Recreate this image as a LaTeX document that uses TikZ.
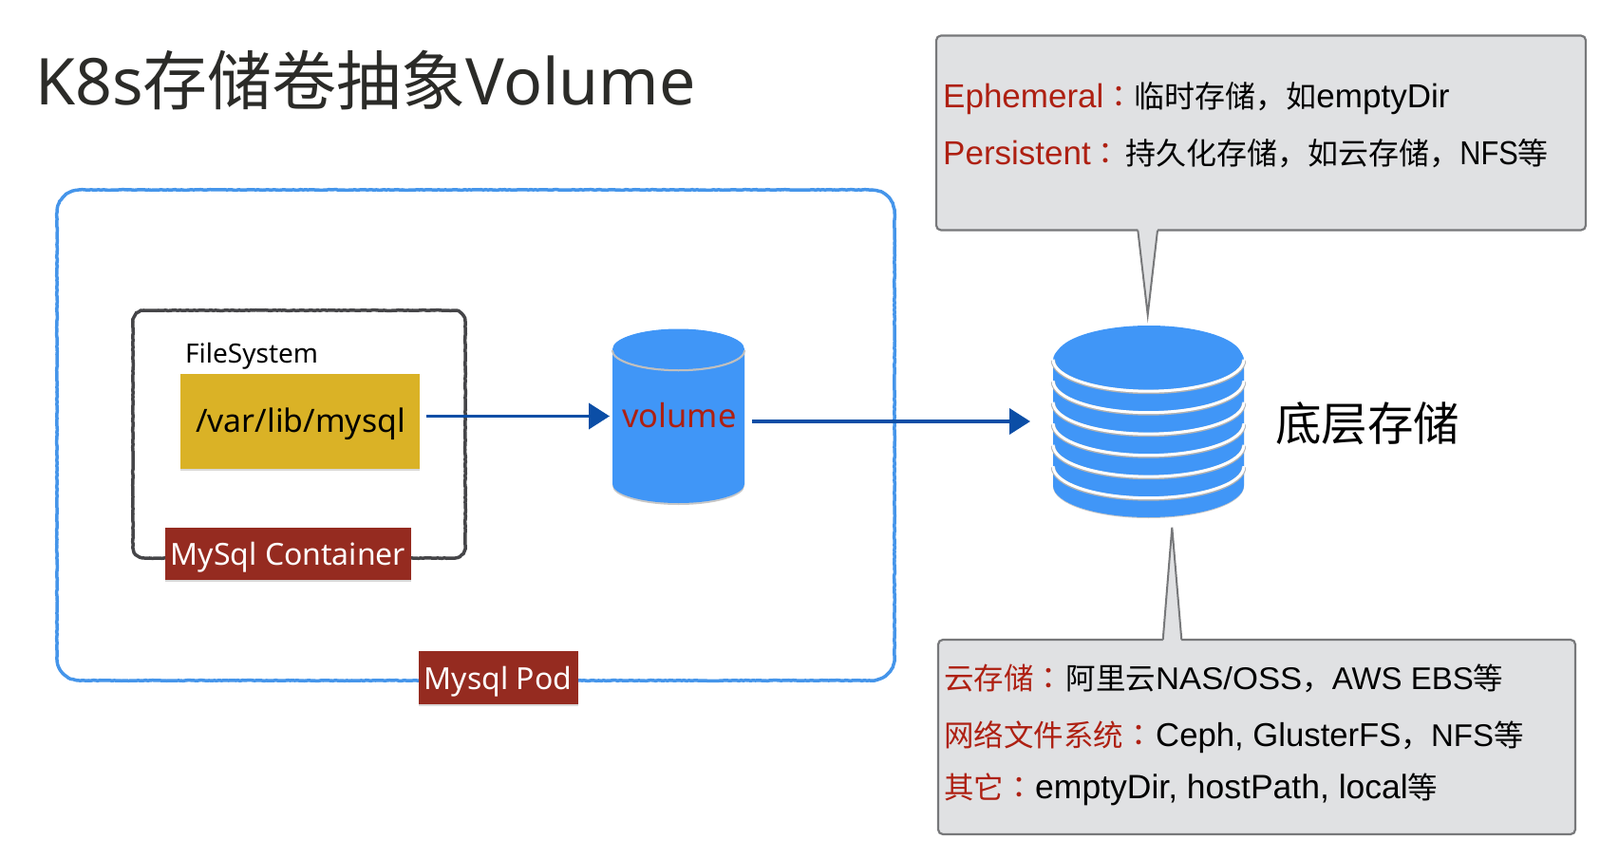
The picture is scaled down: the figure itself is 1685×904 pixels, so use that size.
\documentclass[tikz,border=0pt]{standalone}
\usepackage{fontspec}
\setmainfont{Liberation Sans}
\newfontfamily\cjk{Noto Sans CJK SC}
\newfontfamily\cjktc{Noto Sans CJK TC}
\newfontfamily\uilatin{Noto Sans}
\newfontfamily\latinnarrow[FakeStretch=.88]{Liberation Sans}
\newfontfamily\latinwide[FakeStretch=1.05]{Liberation Sans}
\usetikzlibrary{calc,shapes.geometric,arrows.meta,decorations.pathmorphing,shadows}

\definecolor{podblue}{HTML}{4595EA}
\definecolor{diskblue}{HTML}{4096F7}
\definecolor{framegray}{HTML}{454548}
\definecolor{flowblue}{HTML}{0B4EA6}
\definecolor{mustard}{HTML}{DAB226}
\definecolor{tagred}{HTML}{952B20}
\definecolor{notefill}{HTML}{E0E1E3}
\definecolor{noteline}{HTML}{77787A}
\definecolor{notered}{HTML}{AE2012}
\definecolor{titleink}{HTML}{2B2B28}

\newcommand{\zh}[2][32]{{\cjk\fontsize{#1}{#1}\selectfont #2}}
\newcommand{\mh}[1][32]{{\cjktc\fontsize{#1}{#1}\selectfont ：}}
\newcommand{\hl}[1]{\textcolor{notered}{#1}}
\newcommand{\roughframe}[3]{
  \draw[sketchy,draw=#3,line width=3.5pt] ($(#1.north west)+(#2,0pt)$) -- ($(#1.north east)+(-#2,0pt)$)
    arc[start angle=90,end angle=0,radius=#2] -- ($(#1.south east)+(0pt,#2)$)
    arc[start angle=0,end angle=-90,radius=#2] -- ($(#1.south west)+(#2,0pt)$)
    arc[start angle=270,end angle=180,radius=#2] -- ($(#1.north west)+(0pt,-#2)$)
    arc[start angle=180,end angle=90,radius=#2] -- cycle;
}

\tikzset{
  sketchy/.style={decorate,decoration={random steps,segment length=2.5pt,amplitude=.35pt}},
  frameslot/.style={rectangle,inner sep=0pt,outer sep=0pt},
  tagbox/.style={rectangle,fill=tagred,text=white,inner sep=0pt,text height=24pt,text depth=0pt,
    font=\uilatin\fontsize{32}{32}\selectfont,
    drop shadow={shadow xshift=0pt,shadow yshift=-1.5pt,opacity=.3}},
  flowarrow/.style={draw=flowblue,line width=3.8pt,-{Triangle[length=22pt,width=27pt]}},
  notebox/.style={rectangle,draw=noteline,fill=notefill,line width=2.2pt,rounded corners=5pt},
  notetip/.style={draw=noteline,line width=2pt,line join=miter},
  noteline1/.style={anchor=base west,inner sep=0pt,font=\fontsize{#1}{#1}\selectfont},
  plainlabel/.style={anchor=base west,inner sep=0pt,font=\uilatin\fontsize{#1}{#1}\selectfont},
  rimline/.style={line width=#1,line cap=butt}
}

\begin{document}
\begin{tikzpicture}[x=1pt,y=-1pt]
  \useasboundingbox (0,0) rectangle (1685,904);

  \node[plainlabel=68,text=titleink] (title) at (37,111) {K8s\zh[68]{存储卷抽象}Volume};

  % pod and container frames
  \node[frameslot,minimum width=882pt,minimum height=517pt] (podframe) at (501,458.5) {};
  \node[frameslot,minimum width=350pt,minimum height=261pt] (containerframe) at (315,457.5) {};
  \roughframe{podframe}{24pt}{podblue}
  \roughframe{containerframe}{12pt}{framegray}

  \node[plainlabel=28] (fslabel) at (195,382) {FileSystem};
  \node[rectangle,fill=mustard,minimum width=252pt,minimum height=100pt,inner sep=0pt,
    drop shadow={shadow xshift=0pt,shadow yshift=-1.5pt,opacity=.3}] (mountpath) at (316,444) {};
  \node[plainlabel=33.8] (mountlabel) at (206,455) {/var/lib/mysql};

  % volume cylinder
  \node[frameslot,minimum width=139pt,minimum height=183pt] (volumedb) at (714.5,438.5) {};
  \fill[black!22] (645,372) -- (645,512) arc[start angle=180,end angle=360,x radius=69.5,y radius=-20] -- (784,372) -- cycle;
  \fill[diskblue] (645,368) -- (645,510) arc[start angle=180,end angle=360,x radius=69.5,y radius=-20]
    -- (784,368) arc[start angle=0,end angle=180,x radius=69.5,y radius=-21.5] -- cycle;
  \draw[rimline=2.5pt,draw=black!25] (645,369) arc[start angle=180,end angle=360,x radius=69.5,y radius=-21];
  \node[ellipse,fill=diskblue,minimum width=138pt,minimum height=42pt,inner sep=0pt] (volumetop) at (714.5,368) {};
  \node[plainlabel=34.5,text=notered] (volumelabel) at (655,450) {volume};

  % storage stack
  \node[frameslot,minimum width=201pt,minimum height=202pt] (storagedb) at (1209.5,444) {};
  \fill[black!22] (1109,390) -- (1109,512.5) arc[start angle=180,end angle=360,x radius=100.5,y radius=-33.5] -- (1310,390) -- cycle;
  \fill[diskblue] (1109,379.5) -- (1109,511.5) arc[start angle=180,end angle=360,x radius=100.5,y radius=-33.5]
    -- (1310,379.5) arc[start angle=0,end angle=180,x radius=100.5,y radius=-33.5] -- cycle;
  \foreach \rimy in {492,469.5,447,424.5,402,379.5} {
    \draw[rimline=4.4pt,draw=black!30] (1109,\rimy) arc[start angle=180,end angle=360,x radius=100.5,y radius=-33.5];
    \draw[rimline=3pt,draw=white] (1109,\rimy-.8) arc[start angle=180,end angle=360,x radius=100.5,y radius=-33.5];
  }
  \node[ellipse,fill=diskblue,minimum width=196pt,minimum height=66pt,inner sep=0pt] (storagetop) at (1210,376) {};
  \node[anchor=base west,inner sep=0pt] (storagelabel) at (1343,464) {\zh[48.5]{底层存储}};

  % connectors
  \draw[flowarrow,shorten <=7pt,shorten >=3pt] (mountpath.east |- volumedb.west) -- (volumedb.west);
  \draw[flowarrow,shorten <=8pt,shorten >=24pt] (volumedb.east |- storagedb.west) -- (storagedb.west);

  \node[tagbox,minimum width=259pt,minimum height=55pt] (containertag) at (303.5,583.5) {MySql Container};
  \node[tagbox,minimum width=168pt,minimum height=56pt] (podtag) at (524.5,714) {Mysql Pod};

  % notes
  \node[notebox,minimum width=684pt,minimum height=205pt] (topnote) at (1328,140) {};
  \coordinate (toptip) at (1208.7,331.7);
  \coordinate (topbasea) at (1198.3,242.7);
  \coordinate (topbaseb) at (1219,242.7);
  \fill[notefill] ($(topbasea)+(0,-2)$) -- (toptip) -- ($(topbaseb)+(0,-2)$) -- cycle;
  \draw[notetip] (topbasea) -- (toptip) -- (topbaseb);
  \node[noteline1=35] (ephemeralline) at (993,114) {\hl{Ephemeral\mh}\zh{临时存储，如}emptyDir};
  \node[noteline1=35] (persistentline) at (993,174) {\hl{Persistent\mh}\hspace{4.5pt}\zh{持久化存储，如云存储，}{\latinnarrow NFS}\zh{等}};

  \node[notebox,minimum width=671pt,minimum height=205pt] (lownote) at (1323.5,776.5) {};
  \coordinate (lowtip) at (1234.3,555.7);
  \coordinate (lowbasea) at (1224.7,674);
  \coordinate (lowbaseb) at (1244.3,674);
  \fill[notefill] ($(lowbasea)+(0,2)$) -- (lowtip) -- ($(lowbaseb)+(0,2)$) -- cycle;
  \draw[notetip] (lowbasea) -- (lowtip) -- (lowbaseb);
  \node[noteline1=33] (cloudline) at (994,726.7) {\hl{\zh[31.5]{云存储}\mh}\hspace{2pt}\zh[31.5]{阿里云}{\latinwide NAS/OSS}\zh[31.5]{，}AWS EBS\zh[31.5]{等}};
  \node[noteline1=34.7] (netline) at (994,786.7) {\hl{\zh[31.5]{网络文件系统}\mh}\hspace{2pt}Ceph, GlusterFS\zh[31.5]{，}{\fontsize{33}{33}\selectfont NFS}\zh[31.5]{等}};
  \node[noteline1=35.5] (otherline) at (994,841.7) {\hl{\zh[31.5]{其它}\mh}\hspace{1pt}emptyDir, hostPath, local\zh[31.5]{等}};
\end{tikzpicture}
\end{document}
